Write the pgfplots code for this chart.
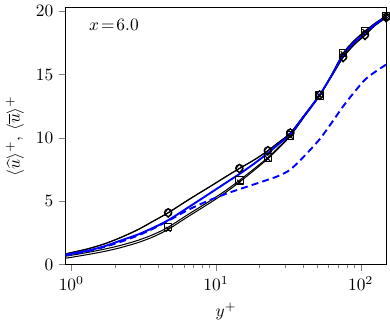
\documentclass[border=0pt]{standalone}
\usepackage{pgfplots}
\usepackage{pgfplotstable}
\pgfplotsset{compat=1.18}

% y+  circ  diam  sq  cross  blue  dashed
\pgfplotstableread{
yp    a     b     c     d     e     f
0.91  0.85  0.83  0.66  0.50  0.78  0.72
1.0   0.95  0.93  0.73  0.57  0.85  0.80
1.3   1.25  1.23  0.96  0.79  1.10  1.05
1.7   1.65  1.63  1.22  1.04  1.45  1.40
2.2   2.15  2.13  1.52  1.34  1.90  1.80
2.9   2.78  2.76  1.92  1.74  2.38  2.30
3.7   3.45  3.43  2.38  2.20  2.92  2.85
4.67  4.10  4.08  2.95  2.78  3.50  3.45
6.5   5.15  5.13  4.00  3.83  4.55  4.35
9.0   6.14  6.12  5.00  4.84  5.60  5.08
11.5  6.90  6.88  5.80  5.65  6.40  5.55
14.5  7.60  7.58  6.65  6.51  7.15  5.95
18.5  8.30  8.28  7.60  7.48  8.00  6.35
22.8  9.00  8.98  8.45  8.36  8.80  6.70
27.0  9.65  9.63  9.25  9.18  9.50  7.00
32.6  10.40 10.38 10.20 10.15 10.30 7.50
41.0  11.85 11.83 11.75 11.72 11.80 8.60
52.0  13.40 13.38 13.35 13.33 13.40 9.90
63.0  14.90 14.88 15.00 14.98 14.95 11.20
75.6  16.40 16.35 16.70 16.65 16.55 12.50
90.0  17.40 17.35 17.70 17.65 17.55 13.60
107   18.15 18.10 18.45 18.40 18.30 14.60
125   18.90 18.85 19.05 19.00 18.95 15.20
150   19.55 19.50 19.65 19.60 19.60 15.80
}\prof

\begin{document}
\begin{tikzpicture}
\begin{axis}[
    scale only axis,
    width=185pt, height=148pt,
    xmode=log,
    xmin=0.91, xmax=151,
    ymin=0, ymax=20.3,
    ytick={0,5,10,15,20},
    tick align=outside,
    xtick pos=bottom, ytick pos=left,
    major tick length=3.5pt,
    minor tick length=2pt,
    xlabel={$y^+$},
    ylabel={$\langle\widehat{u}\rangle^+,\,\langle\overline{u}\rangle^+$},
    every axis plot/.append style={line join=round, smooth, tension=0.5},
]
\addplot[black, line width=0.6pt, mark=o, mark size=2.2pt,
    mark options={solid, fill=none}, mark indices={8,12,14,16,18,20,22,24}]
    table[x=yp, y=a] {\prof};
\addplot[black, line width=0.6pt, mark=diamond, mark size=2.6pt,
    mark options={solid, fill=none}, mark indices={8,12,14,16,18,20,22,24}]
    table[x=yp, y=b] {\prof};
\addplot[black, line width=0.6pt, mark=square, mark size=2.1pt,
    mark options={solid, fill=none}, mark indices={8,12,14,16,18,20,22,24}]
    table[x=yp, y=c] {\prof};
\addplot[black, line width=0.6pt, mark=x, mark size=2pt,
    mark options={solid}, mark indices={8,12,14,16,18,20,22,24}]
    table[x=yp, y=d] {\prof};
\addplot[blue, line width=1.1pt, no marks] table[x=yp, y=e] {\prof};
\addplot[blue, line width=1.1pt, no marks, dash pattern=on 4pt off 2.4pt]
    table[x=yp, y=f] {\prof};
\node[anchor=west] at (rel axis cs:0.055,0.934) {$x\!=\!6.0$};
\end{axis}
\end{tikzpicture}
\end{document}
